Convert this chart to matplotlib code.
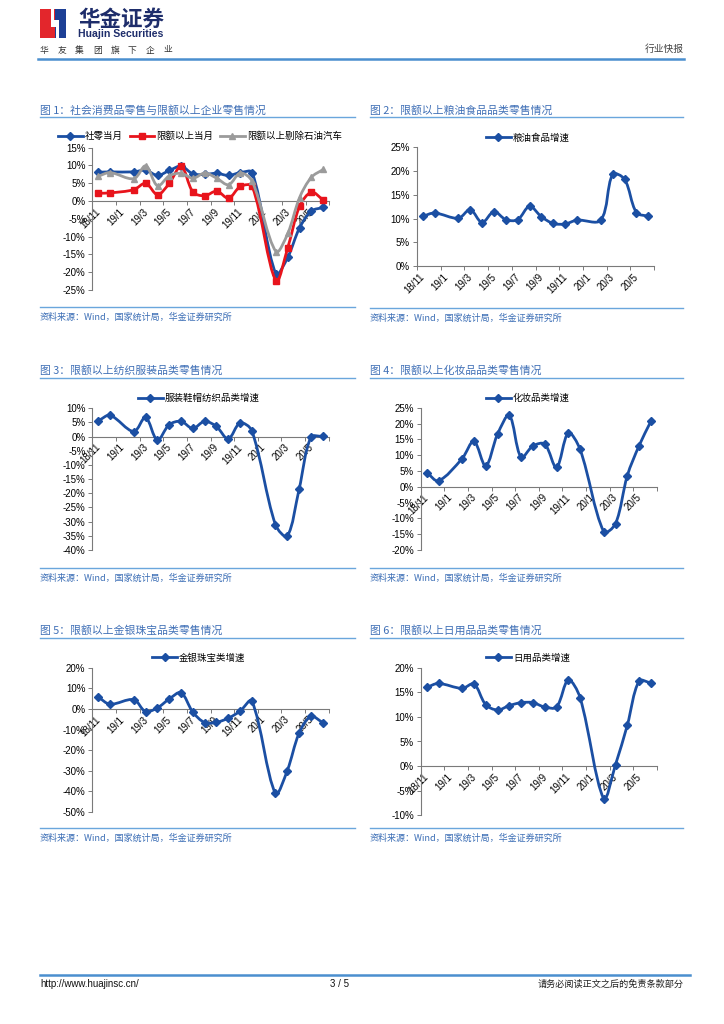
import matplotlib
matplotlib.use('Agg')
import matplotlib.pyplot as plt
from matplotlib.path import Path
from matplotlib.patches import PathPatch, Rectangle, Polygon
from matplotlib.lines import Line2D
from matplotlib.ticker import FuncFormatter
import numpy as np

plt.rcParams['font.family'] = ['Liberation Sans', 'Noto Sans CJK SC', 'DejaVu Sans']
CJK = ['Noto Sans CJK SC', 'DejaVu Sans']
NUM = ['Liberation Sans', 'Noto Sans CJK SC']

# ---------------- data ----------------
months = ['18/11', '18/12', '19/1', '19/2', '19/3', '19/4', '19/5', '19/6', '19/7', '19/8',
          '19/9', '19/10', '19/11', '19/12', '20/1', '20/2', '20/3', '20/4', '20/5', '20/6']
tick_labels = ['18/11', '19/1', '19/3', '19/5', '19/7', '19/9', '19/11', '20/1', '20/3', '20/5']

social_retail = [8.1, 8.2, None, 8.2, 8.7, 7.2, 8.6, 9.8, 7.6, 7.5, 7.8, 7.2, 8.0, 8.0, None,
                 -20.5, -15.8, -7.5, -2.8, -1.8]
above_quota = [2.2, 2.3, None, 3.2, 5.0, 1.8, 5.0, 9.8, 2.5, 1.5, 2.8, 0.8, 4.1, 4.1, None,
               -22.4, -13.1, -1.5, 2.5, 0.3]
above_ex_oil_auto = [7.0, 8.0, None, 6.3, 9.9, 4.3, 7.1, 7.8, 6.4, 7.9, 6.4, 4.6, 7.9, 5.5, None,
                     -14.2, -9.1, 1.0, 6.7, 8.9]
grain_oil_food = [10.5, 11.2, None, 10.1, 11.9, 9.2, 11.5, 9.8, 9.8, 12.6, 10.4, 9.0, 8.9, 9.7, None,
                  9.7, 19.3, 18.3, 11.3, 10.5]
apparel = [5.6, 7.5, None, 1.8, 6.8, -1.2, 4.2, 5.4, 2.9, 5.4, 3.6, -0.8, 4.8, 2.1, None,
           -31.1, -35.1, -18.6, -0.2, 0.1]
cosmetics = [4.5, 1.9, None, 8.9, 14.4, 6.6, 16.6, 22.6, 9.3, 12.9, 13.5, 6.1, 17.0, 11.8, None,
             -14.2, -11.7, 3.5, 13.0, 20.7]
jewelry = [5.7, 2.3, None, 4.5, -1.3, 0.5, 4.8, 7.9, -1.5, -6.6, -6.5, -4.5, -1.1, 3.9, None,
           -41.0, -29.9, -11.8, -3.6, -6.6]
daily_use = [16.0, 16.8, None, 15.8, 16.7, 12.5, 11.4, 12.3, 12.9, 12.9, 12.0, 12.0, 17.5, 13.9, None,
             -6.6, 0.3, 8.3, 17.3, 16.9]

titles = ['图 1：社会消费品零售与限额以上企业零售情况',
          '图 2：限额以上粮油食品品类零售情况',
          '图 3：限额以上纺织服装品类零售情况',
          '图 4：限额以上化妆品品类零售情况',
          '图 5：限额以上金银珠宝品类零售情况',
          '图 6：限额以上日用品品类零售情况']
source_text = '资料来源：Wind，国家统计局，华金证券研究所'
group_text = ['华', '友', '集', '团', '旗', '下', '企', '业']

BLUE = '#1b4fa3'
RED = '#e8141c'
GRAY = '#9b9b9b'
TITLE_C = '#3f6fb6'
LINE_C = '#6aa6dc'
AXIS_C = '#7a7a7a'

W, H = 724, 1024
fig = plt.figure(figsize=(W / 100, H / 100), dpi=100)
fig.patch.set_facecolor('white')


def fxy(x, y):
    return x / W, 1 - y / H


def hline(x0, x1, y, color=LINE_C, lw=1.0):
    fig.add_artist(Line2D([x0 / W, x1 / W], [1 - y / H, 1 - y / H], color=color, lw=lw,
                          transform=fig.transFigure))


def smooth_path(ax, xs, ys):
    # Bezier smoothing with length-weighted tangents (measured in screen proportions)
    bb = ax.get_position()
    x0, x1 = ax.get_xlim()
    y0, y1 = ax.get_ylim()
    sx = bb.width * W / (x1 - x0)
    sy = bb.height * H / (y1 - y0)
    pts = np.array([(x, y) for x, y in zip(xs, ys)], dtype=float)
    scr = pts * np.array([sx, sy])
    n = len(pts)

    def L(a, b):
        return float(np.hypot(*(scr[b] - scr[a])))

    verts = [pts[0]]
    codes = [Path.MOVETO]
    for i in range(n - 1):
        i0 = max(i - 1, 0)
        i3 = min(i + 2, n - 1)
        l01 = L(i0, i)
        l12 = L(i, i + 1)
        l23 = L(i + 1, i3)
        f1 = l12 / (l01 + l12) if (l01 + l12) > 0 else 0.5
        f2 = l12 / (l12 + l23) if (l12 + l23) > 0 else 0.5
        c1 = pts[i] + (pts[i + 1] - pts[i0]) * f1 / 3.0
        c2 = pts[i + 1] - (pts[i3] - pts[i]) * f2 / 3.0
        verts += [c1, c2, pts[i + 1]]
        codes += [Path.CURVE4] * 3
    return Path(verts, codes)


def make_axes(left, right, top, bottom, ymin, ymax, ystep):
    ax = fig.add_axes([left / W, 1 - bottom / H, (right - left) / W, (bottom - top) / H])
    ax.set_xlim(-0.5, 19.5)
    ax.set_ylim(ymin, ymax)
    ax.patch.set_alpha(0)
    for s in ['top', 'right']:
        ax.spines[s].set_visible(False)
    ax.spines['left'].set_color(AXIS_C)
    ax.spines['bottom'].set_color(AXIS_C)
    ax.spines['left'].set_linewidth(0.8)
    ax.spines['bottom'].set_linewidth(0.8)
    ax.spines['bottom'].set_position(('data', 0))
    ax.set_yticks(np.arange(ymin, ymax + 0.01, ystep))
    ax.yaxis.set_major_formatter(FuncFormatter(lambda v, p: '%d%%' % round(v)))
    ax.tick_params(axis='y', direction='out', length=3, width=0.7, color=AXIS_C,
                   labelsize=7, pad=2)
    for lab in ax.get_yticklabels():
        lab.set_fontfamily(NUM)
    ax.set_xticks(np.arange(-0.5, 19.6, 2))
    ax.set_xticklabels([])
    ax.tick_params(axis='x', which='major', direction='out', length=3, width=0.7, color=AXIS_C)
    lab_pos = [2 * k - 0.25 for k in range(len(tick_labels))]
    ax.set_xticks(lab_pos, minor=True)
    ax.set_xticklabels(tick_labels, minor=True, rotation=45, ha='right', va='top',
                       rotation_mode='anchor', fontsize=7, fontfamily=NUM)
    ax.tick_params(axis='x', which='minor', length=0, pad=4)
    return ax


def draw_series(ax, values, color, marker, ms, z, lw=2.0):
    xs = [i for i, v in enumerate(values) if v is not None]
    ys = [v for v in values if v is not None]
    path = smooth_path(ax, xs, ys)
    ax.add_patch(PathPatch(path, fill=False, edgecolor=color, lw=lw, zorder=z,
                           capstyle='round', joinstyle='round'))
    ax.plot(xs, ys, linestyle='none', marker=marker, ms=ms, color=color, mec=color, zorder=z + 0.1)


def handle(color, marker, ms):
    return Line2D([], [], color=color, lw=2.0, marker=marker, ms=ms, mec=color)


def add_legend(handles, labels, cx, cy):
    return fig.legend(handles, labels, loc='center', bbox_to_anchor=fxy(cx, cy),
                      ncol=len(handles), frameon=False, handlelength=2.6, handletextpad=0.25,
                      columnspacing=0.7, prop={'family': CJK, 'size': 6.8}, borderpad=0)


titles_iter = list(titles)


def panel_frame(x0, x1, title_y, line_y, src_line_y, src_y):
    fig.text(x0 / W, 1 - title_y / H, titles_iter.pop(0), fontsize=7.8, color=TITLE_C,
             family=CJK, va='center', ha='left')
    hline(x0, x1, line_y, lw=1.0)
    hline(x0, x1, src_line_y, lw=1.0)
    fig.text(x0 / W, 1 - src_y / H, source_text, fontsize=6.5, color='#3a6db5',
             family=CJK, va='center', ha='left', style='italic')


# ---------------- header ----------------
fig.add_artist(Rectangle(fxy(40, 38), 15 / W, 29 / H, transform=fig.transFigure,
                         facecolor='#e3262c', edgecolor='none'))
fig.add_artist(Rectangle(fxy(55, 38), 11 / W, 29 / H, transform=fig.transFigure,
                         facecolor='#1d3f95', edgecolor='none'))
notch = [fxy(51, 9), fxy(54, 9), fxy(54, 20), fxy(59, 20), fxy(59, 38), fxy(56, 38),
         fxy(56, 27), fxy(51, 27)]
fig.add_artist(Polygon(notch, closed=True, transform=fig.transFigure, facecolor='white',
                       edgecolor='none'))
fig.text(78 / W, 1 - 19 / H, '华金证券', fontsize=15.5, fontweight='bold', color='#1e2d6b',
         family=CJK, va='center', ha='left')
fig.text(78 / W, 1 - 34 / H, 'Huajin Securities', fontsize=7.6, fontweight='bold',
         color='#1e2d6b', family=NUM, va='center', ha='left')
for k, ch in enumerate(group_text):
    fig.text((40 + k * 17.6) / W, 1 - 52.5 / H, ch, fontsize=6.3, color='#333333',
             family=CJK, va='baseline', ha='left')
fig.text(684 / W, 1 - 49 / H, '行业快报', fontsize=7, color='#444444', family=CJK,
         va='center', ha='right')
hline(38, 684, 58.5, color='#4a8fcf', lw=1.8)

# ---------------- footer ----------------
hline(40, 690, 975, color='#4a8fcf', lw=1.8)
fig.text(40 / W, 1 - 984 / H, 'http://www.huajinsc.cn/', fontsize=7, family=NUM,
         va='center', ha='left', color='#111111')
fig.text(340 / W, 1 - 984 / H, '3 / 5', fontsize=7, family=NUM, va='center', ha='center',
         color='#111111')
fig.text(684 / W, 1 - 984 / H, '请务必阅读正文之后的免责条款部分', fontsize=6.6, family=CJK,
         va='center', ha='right', color='#222222')

# ---------------- chart 1 ----------------
panel_frame(40, 355, 110, 117.3, 307, 317)
ax1 = make_axes(92.4, 329.2, 147.7, 290, -25, 15, 5)
draw_series(ax1, social_retail, BLUE, 'D', 3.8, 3)
draw_series(ax1, above_quota, RED, 's', 5.0, 4)
draw_series(ax1, above_ex_oil_auto, GRAY, '^', 5.0, 5)
add_legend([handle(BLUE, 'D', 3.8), handle(RED, 's', 5.0), handle(GRAY, '^', 5.0)],
           ['社零当月', '限额以上当月', '限额以上剔除石油汽车'], 200, 136)

# ---------------- chart 2 ----------------
panel_frame(370, 683, 110, 117.3, 308, 318)
ax2 = make_axes(416.8, 654.2, 147.3, 266.3, 0, 25, 5)
draw_series(ax2, grain_oil_food, BLUE, 'D', 4.0, 3)
add_legend([handle(BLUE, 'D', 4.0)], ['粮油食品增速'], 528, 138)

# ---------------- chart 3 ----------------
panel_frame(40, 355, 370, 377.7, 568.3, 578)
ax3 = make_axes(92.4, 328.6, 408.3, 550, -40, 10, 5)
draw_series(ax3, apparel, BLUE, 'D', 4.0, 3)
add_legend([handle(BLUE, 'D', 4.0)], ['服装鞋帽纺织品类增速'], 199, 398.3)

# ---------------- chart 4 ----------------
panel_frame(370, 683, 370, 377.7, 568.3, 578)
ax4 = make_axes(420.8, 656.8, 407.7, 550, -20, 25, 5)
draw_series(ax4, cosmetics, BLUE, 'D', 4.0, 3)
add_legend([handle(BLUE, 'D', 4.0)], ['化妆品类增速'], 528, 398.3)

# ---------------- chart 5 ----------------
panel_frame(40, 355, 630, 638.3, 828.3, 838)
ax5 = make_axes(92.4, 328.6, 667.7, 812, -50, 20, 10)
draw_series(ax5, jewelry, BLUE, 'D', 4.0, 3)
add_legend([handle(BLUE, 'D', 4.0)], ['金银珠宝类增速'], 199, 658)

# ---------------- chart 6 ----------------
panel_frame(370, 683, 630, 638.3, 828.3, 838)
ax6 = make_axes(420.8, 656.8, 667.7, 815.3, -10, 20, 5)
draw_series(ax6, daily_use, BLUE, 'D', 4.0, 3)
add_legend([handle(BLUE, 'D', 4.0)], ['日用品类增速'], 528, 658)

fig.savefig('out.png', dpi=100, facecolor='white')
